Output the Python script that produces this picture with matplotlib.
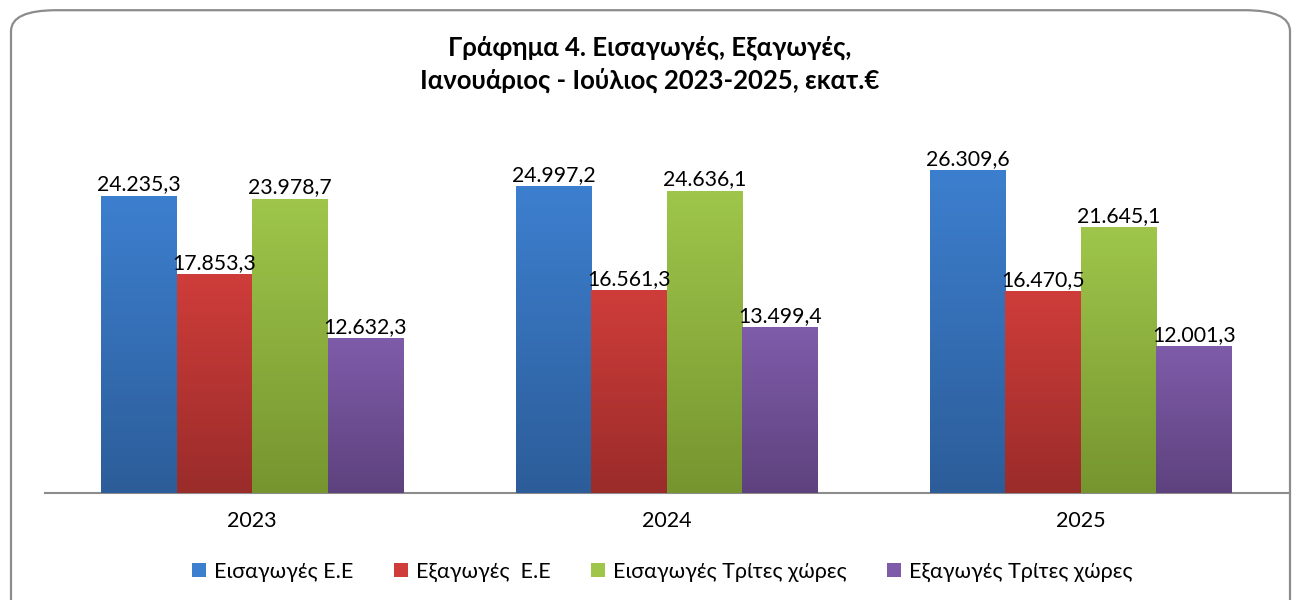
import matplotlib.pyplot as plt
import numpy as np
from matplotlib.colors import LinearSegmentedColormap
from matplotlib.patches import FancyBboxPatch, Patch

years = ["2023", "2024", "2025"]
series = ["Εισαγωγές Ε.Ε", "Εξαγωγές  Ε.Ε", "Εισαγωγές Τρίτες χώρες", "Εξαγωγές Τρίτες χώρες"]
imports_eu = [24235.3, 24997.2, 26309.6]
exports_eu = [17853.3, 16561.3, 16470.5]
imports_third = [23978.7, 24636.1, 21645.1]
exports_third = [12632.3, 13499.4, 12001.3]
values = [imports_eu, exports_eu, imports_third, exports_third]

# gradient colors (top, bottom) for each series
grad = [("#3d7fcf", "#2c5d99"), ("#cf3d3a", "#9a2c2a"),
        ("#9fc64b", "#76952f"), ("#7f5caa", "#5e427e")]

plt.rcParams['font.family'] = ['Lato', 'DejaVu Sans']

fig = plt.figure(figsize=(13.01, 6), dpi=100)
ax = fig.add_axes([0.0346, 0.178, 0.9554, 0.614])

# rounded chart border
fig.patches.append(FancyBboxPatch((11 / 1301, -0.05), 1279 / 1301, 1.033,
                                  boxstyle="round,pad=0,rounding_size=0.035",
                                  transform=fig.transFigure, fill=False,
                                  edgecolor="#8c8c8c", linewidth=1.6, zorder=0))

def fmt(v):
    s = f"{v:,.1f}"
    return s.replace(",", "X").replace(".", ",").replace("X", ".")

w = 0.182
x = np.arange(len(years))
for i, vals in enumerate(values):
    cmap = LinearSegmentedColormap.from_list("g%d" % i, [grad[i][1], grad[i][0]])
    bars = ax.bar(x + (i - 1.5) * w, vals, w, color=grad[i][0], zorder=2)
    for b, v in zip(bars, vals):
        x0 = b.get_x()
        im = ax.imshow(np.linspace(0, 1, 256).reshape(-1, 1), cmap=cmap, origin="lower",
                       extent=(x0, x0 + w, 0, v), aspect="auto", zorder=3)
        im.set_clip_path(b)
        ax.text(x0 + w / 2, v + 100, fmt(v), ha="center", va="bottom",
                fontsize=15.3, color="black", zorder=4)

ax.set_xlim(-0.5, 2.5)
ax.set_ylim(0, 30000)
ax.set_xticks(x)
ax.set_xticklabels(years, fontsize=15.5)
ax.tick_params(axis="x", length=0, pad=13)
ax.set_yticks([])
for s in ["top", "right", "left"]:
    ax.spines[s].set_visible(False)
ax.spines["bottom"].set_color("#8c8c8c")
ax.spines["bottom"].set_linewidth(1.5)

fig.text(0.499, 0.92, "Γράφημα 4. Εισαγωγές, Εξαγωγές,", ha="center", va="center",
         fontsize=18.5, fontweight="bold")
fig.text(0.499, 0.866, "Ιανουάριος - Ιούλιος 2023-2025, εκατ.€", ha="center", va="center",
         fontsize=18.5, fontweight="bold")

handles = [Patch(facecolor=grad[i][0]) for i in range(4)]
fig.legend(handles, series, loc="center", bbox_to_anchor=(0.509, 0.047), ncol=4,
           frameon=False, fontsize=15.5, handlelength=0.65, handleheight=0.65,
           handletextpad=0.35, columnspacing=1.9)

fig.savefig("out.png", dpi=100)
